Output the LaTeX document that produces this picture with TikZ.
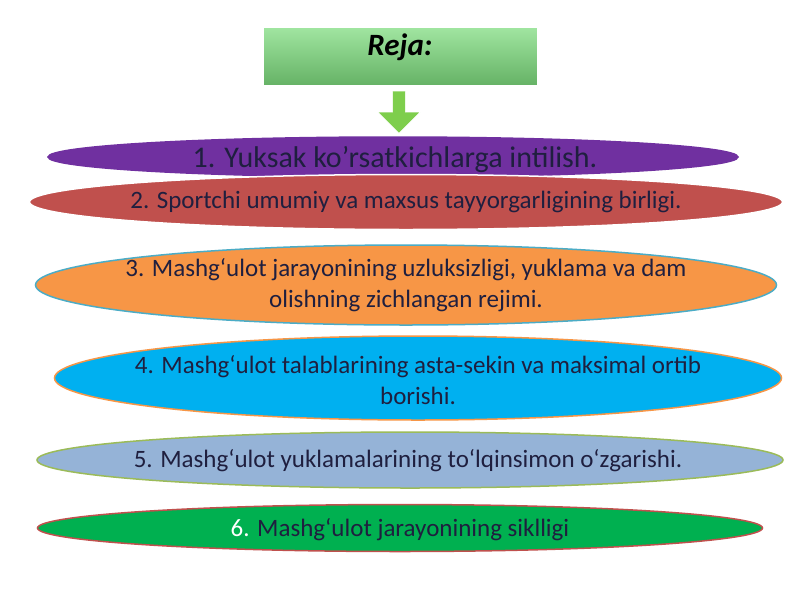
\documentclass[tikz,border=0pt]{standalone}
\usepackage{fontspec}
\setmainfont{Carlito}
\usetikzlibrary{shapes.geometric,shapes.arrows}
\definecolor{txt}{HTML}{1F1F3F}
\tikzset{ell/.style={ellipse,inner sep=0pt,line width=1.5pt},
  lbl/.style={font=\fontsize{25}{31}\selectfont,text=txt,align=center}}
\begin{document}
\begin{tikzpicture}[x=1pt,y=-1pt]
\useasboundingbox (0,0) rectangle (800,600);
\fill[white] (0,0) rectangle (800,600);
\node[draw=white,line width=1pt,top color=green!30!white!90!black,bottom color=green!50!black!60!white,minimum width=274pt,minimum height=58pt] (reja) at (400,56) {};
\node[font=\fontsize{31}{36}\selectfont\bfseries\itshape] (rt) at (400,47) {Reja:};
\node[single arrow,shape border rotate=270,fill=green!45!olive!70!white,draw=white,minimum width=42pt,minimum height=42pt,single arrow head extend=5pt,inner sep=2pt] (arr) at (399,109) {};
\node[ell,fill={rgb,255:red,112;green,48;blue,160},minimum width=690pt,minimum height=40pt,draw={rgb,255:red,112;green,48;blue,160}] (e1) at (393,157) {};
\node[ell,fill={rgb,255:red,192;green,80;blue,77},draw=white,minimum width=753pt,minimum height=55pt] (e2) at (406,202) {};
\node[lbl] (t2) at (406,202) {2. Sportchi umumiy va maxsus tayyorgarligining birligi.};
\node[font=\fontsize{30}{36}\selectfont,text=txt] (t1) at (395,159) {1. Yuksak ko\char"0027 rsatkichlarga intilish.};
\node[ell,fill={rgb,255:red,247;green,150;blue,70},draw={rgb,255:red,75;green,172;blue,198},minimum width=741pt,minimum height=80pt] (e3) at (406,285) {};
\node[lbl] (t3) at (406,285) {3. Mashgʻulot jarayonining uzluksizligi, yuklama va dam\\olishning zichlangan rejimi.};
\node[ell,fill={rgb,255:red,0;green,176;blue,240},draw={rgb,255:red,247;green,150;blue,70},minimum width=727pt,minimum height=84pt] (e4) at (418,378) {};
\node[lbl] (t4) at (418,380) {4. Mashgʻulot talablarining asta-sekin va maksimal ortib\\borishi.};
\node[ell,fill={rgb,255:red,149;green,179;blue,215},draw={rgb,255:red,155;green,187;blue,89},minimum width=746pt,minimum height=56pt] (e5) at (410,460) {};
\node[lbl] (t5) at (408,461) {5. Mashgʻulot yuklamalarining toʻlqinsimon oʻzgarishi.};
\node[ell,fill={rgb,255:red,0;green,176;blue,80},draw={rgb,255:red,192;green,80;blue,77},minimum width=725pt,minimum height=47pt] (e6) at (400,528) {};
\node[lbl] (t6) at (400,530) {\textcolor{white}{6.} Mashgʻulot jarayonining siklligi};
\end{tikzpicture}
\end{document}
